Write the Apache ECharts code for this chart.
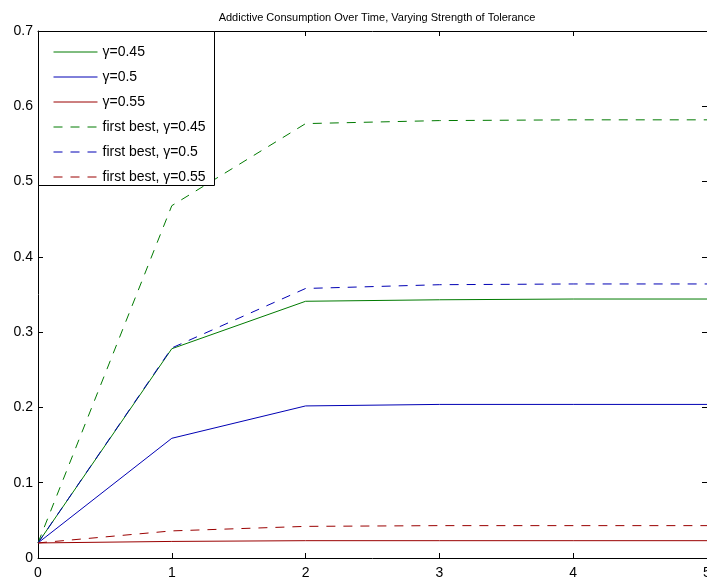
<!DOCTYPE html>
<html>
<head>
<meta charset="utf-8">
<script src="https://cdn.jsdelivr.net/npm/echarts@6/dist/echarts.min.js"></script>
<style>html,body{margin:0;padding:0;background:#fff;}#c{width:707px;height:582px;}</style>
</head>
<body>
<div id="c"></div>
<script>
var xCats = [0, 1, 2, 3, 4, 5];
var g045 = [0.02, 0.278, 0.341, 0.343, 0.344, 0.344];
var g050 = [0.02, 0.159, 0.202, 0.204, 0.204, 0.204];
var g055 = [0.02, 0.022, 0.023, 0.023, 0.023, 0.023];
var fb045 = [0.02, 0.468, 0.577, 0.581, 0.582, 0.582];
var fb050 = [0.02, 0.279, 0.358, 0.363, 0.364, 0.364];
var fb055 = [0.02, 0.036, 0.042, 0.043, 0.043, 0.043];
var names = ['γ=0.45', 'γ=0.5', 'γ=0.55', 'first best, γ=0.45', 'first best, γ=0.5', 'first best, γ=0.55'];

var GREEN = '#007a00', BLUE = '#0000b4', RED = '#9a0000';
function pairs(arr){ return arr.map(function(v,i){ return [xCats[i], v]; }); }
function mk(name, data, color, dashed){
  return {
    name: name, type: 'line', data: pairs(data), symbol: 'none', animation: false,
    lineStyle: {color: color, width: 1, type: dashed ? [9, 8] : 'solid'},
    itemStyle: {color: color}
  };
}
var font = 'Liberation Sans, Arial, Helvetica, sans-serif';
var chart = echarts.init(document.getElementById('c'));
chart.setOption({
  backgroundColor: '#fff',
  animation: false,
  title: {
    text: 'Addictive Consumption Over Time, Varying Strength of Tolerance',
    left: 372, top: 7, textAlign: 'center',
    textStyle: {fontSize: 11, fontWeight: 'normal', color: '#000', fontFamily: font}
  },
  grid: {left: 38, top: 31, right: 0, bottom: 24, containLabel: false, outerBoundsMode: 'none'},
  xAxis: [{
    type: 'value', min: 0, max: 5, interval: 1,
    axisLine: {onZero: false, lineStyle: {color: '#000', width: 1}},
    axisTick: {inside: true, length: 5, lineStyle: {color: '#000'}},
    axisLabel: {color: '#000', fontSize: 14, fontFamily: font, margin: 8, hideOverlap: false},
    splitLine: {show: false}
  }, {
    type: 'value', min: 0, max: 5, interval: 1, position: 'top',
    axisLine: {onZero: false, lineStyle: {color: '#000', width: 1}},
    axisTick: {inside: true, length: 5, lineStyle: {color: '#000'}},
    axisLabel: {show: false}, splitLine: {show: false}
  }],
  yAxis: [{
    type: 'value', min: 0, max: 0.7, interval: 0.1,
    axisLine: {show: true, onZero: false, lineStyle: {color: '#000', width: 1}},
    axisTick: {show: true, inside: true, length: 5, lineStyle: {color: '#000'}},
    axisLabel: {color: '#000', fontSize: 14, fontFamily: font, margin: 5,
      formatter: function(v){ return v === 0 ? '0' : v.toFixed(1); }},
    splitLine: {show: false}
  }, {
    type: 'value', min: 0, max: 0.7, interval: 0.1, position: 'right',
    axisLine: {show: true, onZero: false, lineStyle: {color: '#000', width: 1}},
    axisTick: {show: true, inside: true, length: 5, lineStyle: {color: '#000'}},
    axisLabel: {show: false}, splitLine: {show: false}
  }],
  graphic: [{
    type: 'rect', z: 5, left: 38, top: 31,
    shape: {width: 176, height: 154},
    style: {fill: '#fff', stroke: '#000', lineWidth: 1}
  }],
  legend: {
    z: 10, orient: 'vertical', left: 48, top: 40,
    itemWidth: 44, itemHeight: 14, itemGap: 11, itemTextGap: 5,
    itemStyle: {opacity: 0},
    lineStyle: {width: 1},
    textStyle: {fontSize: 14, color: '#000', fontFamily: font},
    data: names
  },
  series: [
    mk(names[0], g045, GREEN, false),
    mk(names[1], g050, BLUE, false),
    mk(names[2], g055, RED, false),
    mk(names[3], fb045, GREEN, true),
    mk(names[4], fb050, BLUE, true),
    mk(names[5], fb055, RED, true)
  ]
});
</script>
</body>
</html>
